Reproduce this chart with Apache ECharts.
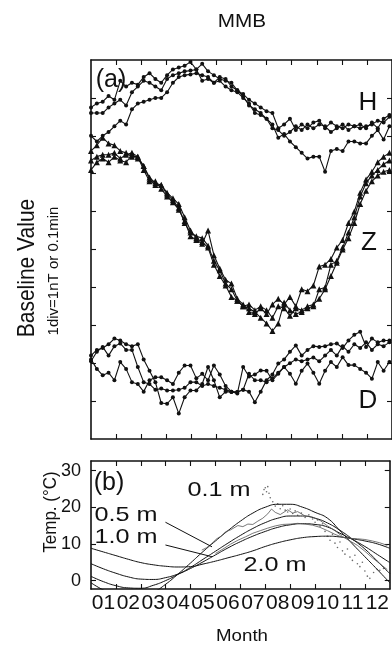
<!DOCTYPE html>
<html>
<head>
<meta charset="utf-8">
<script src="https://cdn.jsdelivr.net/npm/echarts@6/dist/echarts.min.js"></script>
<style>
  html, body { margin: 0; padding: 0; background: #fff; }
  #chart { width: 392px; height: 652px; }
</style>
</head>
<body>
<div id="chart"></div>
<script>
// month labels / tick positions
const monthLabels = ['01', '02', '03', '04', '05', '06', '07', '08', '09', '10', '11', '12']
const monthTicks = [1, 2, 3, 4, 5, 6, 7, 8, 9, 10, 11]
const monthLabelPos = [0.5, 1.5, 2.5, 3.5, 4.5, 5.5, 6.5, 7.5, 8.5, 9.5, 10.5, 11.5]
const divTicks = [1, 2, 3, 4, 5, 6, 7, 8, 9]
const tempTicks = [0, 10, 20, 30]
const weekStep = 0.2333 // months between weekly samples

// (a) baseline values, in divisions (weekly)
const hYear1 = [8.75, 8.85, 8.9, 9.05, 8.95, 9.45, 9.3, 9.4, 9.35, 9.55, 9.65, 9.5, 9.4, 9.6, 9.75, 9.8, 9.85, 9.95, 9.75, 9.9, 9.7, 9.6, 9.5, 9.45, 9.4, 9.2, 9.1, 8.95, 8.85, 8.75, 8.65, 8.6, 8.2, 8.3, 8.45, 8.15, 8.3, 8.2, 8.35, 8.4, 8.2, 8.35, 8.25, 8.2, 8.3, 8.25, 8.3, 8.2, 8.35, 8.2, 8.45, 8.55]
const hYear2 = [8.6, 8.6, 8.6, 8.75, 8.85, 8.95, 8.8, 9.15, 9.3, 9.45, 9.4, 9.3, 9.2, 9.5, 9.6, 9.65, 9.7, 9.72, 9.75, 9.45, 9.5, 9.4, 9.55, 9.5, 9.3, 9.2, 9.05, 8.8, 8.7, 8.6, 8.45, 8.3, 7.95, 8.05, 7.85, 7.7, 7.55, 7.4, 7.45, 7.45, 7.05, 7.6, 7.65, 7.6, 7.85, 7.85, 7.8, 7.8, 8.0, 8.15, 7.9, 8.25]
const hYear3 = [8.0, 7.85, 8.0, 8.1, 8.25, 8.4, 8.3, 8.7, 8.85, 8.9, 8.95, 9.0, 9.0, 9.15, 9.4, 9.55, 9.6, 9.62, 9.65, 9.6, 9.55, 9.4, 9.45, 9.3, 9.2, 9.15, 9.0, 8.85, 8.6, 8.55, 8.45, 8.2, 8.15, 8.0, 8.1, 8.25, 8.15, 8.3, 8.2, 8.3, 8.25, 8.1, 8.2, 8.3, 8.15, 8.25, 8.2, 8.25, 8.3, 8.4, 8.35, 8.5]
const zYear1 = [7.6, 7.75, 7.95, 7.8, 7.75, 7.6, 7.55, 7.45, 7.45, 7.2, 6.9, 6.75, 6.7, 6.5, 6.35, 6.2, 5.85, 5.5, 5.3, 5.2, 5.05, 4.6, 4.3, 4.05, 3.75, 3.65, 3.5, 3.45, 3.35, 3.2, 3.05, 2.85, 3.05, 3.6, 3.4, 3.3, 3.35, 3.45, 3.5, 3.95, 4.0, 4.6, 4.7, 5.05, 5.45, 5.85, 6.4, 6.75, 6.95, 7.1, 7.25, 7.35]
const zYear2 = [7.35, 7.45, 7.5, 7.5, 7.55, 7.4, 7.5, 7.55, 7.45, 7.1, 6.8, 6.8, 6.6, 6.4, 6.25, 6.05, 5.75, 5.35, 5.25, 5.15, 5.5, 4.85, 4.5, 4.2, 4.1, 3.7, 3.55, 3.35, 3.3, 3.45, 3.3, 3.55, 3.7, 3.55, 3.75, 3.5, 3.95, 3.9, 4.05, 4.55, 4.6, 4.75, 5.05, 5.25, 5.7, 6.0, 6.5, 6.85, 7.05, 7.3, 7.45, 7.55]
const zYear3 = [7.1, 7.3, 7.4, 7.3, 7.45, 7.35, 7.3, 7.5, 7.4, 7.2, 6.85, 6.7, 6.7, 6.45, 6.3, 6.1, 5.7, 5.45, 5.35, 5.3, 5.1, 4.7, 4.45, 4.1, 3.95, 3.65, 3.5, 3.55, 3.4, 3.5, 3.4, 3.2, 3.5, 3.45, 3.25, 3.45, 3.4, 3.5, 3.55, 3.7, 3.95, 4.3, 4.65, 5.0, 5.3, 5.7, 6.2, 6.55, 6.8, 6.95, 7.05, 7.1]
const dYear1 = [2.2, 2.35, 2.4, 2.5, 2.65, 2.6, 2.5, 2.45, 2.5, 2.1, 1.8, 1.5, 0.95, 0.93, 1.1, 0.67, 1.1, 1.28, 1.28, 1.45, 1.9, 1.55, 1.1, 1.25, 1.24, 1.24, 1.3, 1.25, 0.97, 1.25, 1.55, 1.7, 1.99, 2.1, 2.3, 2.47, 2.2, 2.35, 2.45, 2.43, 2.45, 2.5, 2.52, 2.4, 2.6, 2.75, 2.83, 2.43, 2.65, 2.55, 2.6, 2.6]
const dYear2 = [2.1, 1.85, 1.68, 1.75, 1.55, 2.03, 1.85, 1.5, 1.45, 1.25, 1.55, 1.63, 1.63, 1.55, 1.45, 1.75, 1.94, 1.94, 1.6, 1.72, 1.55, 1.94, 1.7, 1.4, 1.25, 1.2, 1.9, 1.65, 1.7, 1.81, 1.8, 1.55, 1.72, 1.9, 1.72, 1.46, 1.8, 1.99, 1.75, 1.46, 1.8, 2.03, 1.9, 2.16, 1.95, 1.95, 1.85, 1.75, 1.59, 2.03, 1.8, 2.03]
const dYear3 = [2.05, 2.3, 2.43, 2.2, 2.45, 2.52, 2.35, 2.35, 1.9, 1.5, 1.45, 1.3, 1.33, 1.28, 1.28, 1.3, 1.35, 1.5, 1.5, 1.4, 1.45, 1.4, 1.35, 1.3, 1.25, 1.24, 1.3, 1.72, 1.55, 1.55, 1.5, 1.6, 1.75, 1.9, 2.0, 2.1, 2.05, 2.1, 2.15, 2.05, 2.2, 2.35, 2.2, 2.45, 2.3, 2.5, 2.4, 2.55, 2.35, 2.5, 2.45, 2.55]

// (b) soil temperature, fitted curves every half month (0..12)
const halfMonths = [0, 0.5, 1, 1.5, 2, 2.5, 3, 3.5, 4, 4.5, 5, 5.5, 6, 6.5, 7, 7.5, 8, 8.5, 9, 9.5, 10, 10.5, 11, 11.5, 12]
const temp01Fit = [-0.6, -2.6, -4.0, -4.6, -4.4, -3.2, -1.0, 1.8, 4.8, 7.9, 10.8, 13.6, 16.2, 18.4, 20.0, 20.8, 20.8, 20.0, 18.6, 17.0, 13.6, 10.0, 6.5, 3.0, -0.6]
const temp05Fit = [1.15, -0.3, -1.4, -2.0, -2.1, -1.3, 0.0, 1.7, 3.6, 5.8, 8.0, 10.2, 12.3, 14.2, 15.8, 17.0, 17.6, 17.6, 17.0, 15.7, 13.7, 11.3, 8.6, 5.3, 1.9]
const temp10Fit = [4.6, 3.2, 2.0, 1.0, 0.4, 0.3, 0.8, 1.8, 3.3, 5.1, 7.0, 8.9, 10.6, 12.1, 13.4, 14.5, 15.2, 15.5, 15.3, 14.6, 12.9, 11.2, 9.3, 7.1, 4.9]
const temp20Fit = [8.8, 7.8, 6.8, 5.8, 4.9, 4.3, 3.9, 3.7, 3.8, 4.5, 5.3, 6.2, 7.1, 8.1, 9.3, 10.3, 11.1, 11.7, 12.0, 12.1, 11.9, 11.4, 10.8, 10.0, 8.8]
// measured (month, degC)
const temp05Obs = [[4.45, 8.3], [4.65, 9.0], [4.85, 10.1], [5.05, 11.4], [5.25, 12.2], [5.4, 13.3], [5.6, 13.8], [5.9, 15.0], [6.1, 14.7], [6.3, 15.4], [6.5, 15.3], [6.7, 16.2], [6.9, 17.0], [7.1, 18.2], [7.25, 19.5], [7.4, 18.6], [7.6, 18.0], [7.9, 19.3], [8.1, 18.4], [8.3, 18.8], [8.6, 17.6], [8.9, 17.3], [9.2, 16.4], [9.5, 14.9], [9.8, 13.6], [10.1, 12.0], [10.4, 10.8], [10.7, 9.6], [11.0, 8.0], [11.3, 6.2], [11.6, 4.6], [11.9, 3.0]]
const temp10Obs = [[5.0, 7.4], [5.3, 8.6], [5.6, 9.9], [5.9, 11.0], [6.2, 11.9], [6.5, 12.9], [6.8, 13.6], [7.1, 14.3], [7.4, 14.9], [7.7, 15.3], [8.0, 15.4], [8.3, 15.6], [8.6, 15.4], [8.9, 15.1], [9.2, 14.5], [9.5, 13.6], [9.8, 12.6], [10.1, 11.8], [10.4, 11.5], [10.7, 11.4], [11.0, 11.2], [11.3, 10.8], [11.6, 10.3], [11.9, 9.6]]
const temp01Obs = [[6.9, 23.5], [6.95, 24.8], [7.0, 25.3], [7.05, 24.2], [7.1, 25.6], [7.15, 23.8], [7.2, 22.6], [7.3, 21.5], [7.4, 20.3], [7.5, 20.9], [7.6, 19.6], [7.7, 20.4], [7.8, 19.2], [7.9, 18.7], [8.0, 19.5], [8.1, 18.3], [8.2, 19.0], [8.3, 17.8], [8.45, 18.4], [8.6, 17.2], [8.75, 17.9], [8.9, 16.8], [9.0, 15.9], [9.1, 16.5], [9.2, 14.8], [9.3, 15.5], [9.4, 13.4], [9.5, 12.1], [9.6, 11.0], [9.7, 12.6], [9.8, 10.2], [9.9, 9.0], [10.0, 10.5], [10.1, 8.1], [10.2, 7.2], [10.3, 8.6], [10.4, 6.4], [10.5, 5.5], [10.6, 6.9], [10.7, 4.6], [10.8, 3.8], [10.9, 5.0], [11.0, 2.6], [11.1, 1.2], [11.2, 0.6], [11.35, 2.2], [11.5, 3.0], [11.6, 2.8], [11.75, 3.3]]
// label leader lines (month, degC)
const lead05 = [[2.99, 15.9], [4.86, 9.2]]
const lead10 = [[2.99, 9.7], [4.86, 6.5]]

const ink = '#111'
const font = '"Liberation Sans", Arial, sans-serif'

function weekly(vals) {
  return vals.map((v, i) => [i * weekStep, v])
}
function byHalfMonth(vals) {
  return vals.map((v, i) => [halfMonths[i], v])
}

const axisLine = { show: true, onZero: false, lineStyle: { color: ink, width: 1.6 } }
function tick(values) {
  return { show: true, inside: true, length: 5, customValues: values, lineStyle: { color: ink, width: 1.1 } }
}
function monthAxis(grid, pos, withLabels) {
  return {
    gridIndex: grid, type: 'value', position: pos, min: 0, max: 12,
    axisLine: axisLine, axisTick: tick(monthTicks), splitLine: { show: false },
    axisLabel: withLabels ? {
      show: true, customValues: monthLabelPos, margin: 4,
      fontFamily: font, fontSize: 21, color: ink,
      formatter: v => monthLabels[Math.floor(v)]
    } : { show: false }
  }
}
function valAxis(grid, pos, min, max, ticks, withLabels) {
  return {
    gridIndex: grid, type: 'value', position: pos, min: min, max: max,
    axisLine: axisLine, axisTick: tick(ticks), splitLine: { show: false },
    axisLabel: withLabels ? {
      show: true, customValues: ticks, margin: 10,
      fontFamily: font, fontSize: 18, color: ink
    } : { show: false }
  }
}

function geoLine(name, vals, symbol, size) {
  return {
    name: name, type: 'line', xAxisIndex: 0, yAxisIndex: 0,
    data: weekly(vals), symbol: symbol, symbolSize: size,
    lineStyle: { color: ink, width: 1.1 }, itemStyle: { color: ink },
    silent: true
  }
}
function tempLine(name, data, color, width) {
  return {
    name: name, type: 'line', xAxisIndex: 2, yAxisIndex: 2, data: data,
    smooth: true, showSymbol: false, clip: true,
    lineStyle: { color: color, width: width }, silent: true
  }
}

function txt(text, x, y, size, opts) {
  return Object.assign({
    type: 'text', x: x, y: y, z: 100,
    style: { text: text, font: size + 'px ' + font, fill: ink, align: 'center', verticalAlign: 'middle' }
  }, opts || {})
}

const chart = echarts.init(document.getElementById('chart'))
chart.setOption({
  animation: false,
  backgroundColor: '#fff',
  grid: [
    { left: 91, top: 60, right: -1, bottom: 213 },
    { left: 91, top: 461, right: -1, bottom: 63 }
  ],
  xAxis: [
    monthAxis(0, 'bottom', false),
    monthAxis(0, 'top', false),
    monthAxis(1, 'bottom', true),
    monthAxis(1, 'top', false)
  ],
  yAxis: [
    valAxis(0, 'left', 0, 10, divTicks, false),
    valAxis(0, 'right', 0, 10, divTicks, false),
    valAxis(1, 'left', -2.3, 32.6, tempTicks, true),
    valAxis(1, 'right', -2.3, 32.6, tempTicks, false)
  ],
  series: [
    geoLine('H1', hYear1, 'circle', 4),
    geoLine('H2', hYear2, 'circle', 4),
    geoLine('H3', hYear3, 'circle', 4),
    geoLine('Z1', zYear1, 'triangle', 6),
    geoLine('Z2', zYear2, 'triangle', 6),
    geoLine('Z3', zYear3, 'triangle', 6),
    geoLine('D1', dYear1, 'circle', 4),
    geoLine('D2', dYear2, 'circle', 4),
    geoLine('D3', dYear3, 'circle', 4),
    tempLine('0.1 m', byHalfMonth(temp01Fit), ink, 1),
    tempLine('0.5 m', byHalfMonth(temp05Fit), ink, 1),
    tempLine('1.0 m', byHalfMonth(temp10Fit), ink, 1),
    tempLine('2.0 m', byHalfMonth(temp20Fit), ink, 1),
    Object.assign(tempLine('0.5 m obs', temp05Obs, '#555', 0.8), { smooth: false }),
    Object.assign(tempLine('1.0 m obs', temp10Obs, '#555', 0.8), { smooth: false }),
    {
      name: '0.1 m obs', type: 'scatter', xAxisIndex: 2, yAxisIndex: 2,
      data: temp01Obs, symbolSize: 1.6, itemStyle: { color: '#444' }, silent: true
    },
    {
      name: 'leaders', type: 'line', xAxisIndex: 2, yAxisIndex: 2, data: [], silent: true,
      markLine: {
        symbol: 'none', silent: true, label: { show: false },
        lineStyle: { color: ink, width: 1, type: 'solid' },
        data: [
          [{ coord: lead05[0] }, { coord: lead05[1] }],
          [{ coord: lead10[0] }, { coord: lead10[1] }]
        ]
      }
    }
  ],
  graphic: [
    txt('MMB', 242, 22, 18, { scaleX: 1.15 }),
    txt('(a)', 111, 80, 25),
    txt('H', 368, 103, 26),
    txt('Z', 369, 243, 26),
    txt('D', 368, 401, 26),
    txt('(b)', 109, 483, 25),
    txt('0.1 m', 219, 490, 21, { scaleX: 1.2 }),
    txt('0.5 m', 126, 515, 21, { scaleX: 1.2 }),
    txt('1.0 m', 126, 537, 21, { scaleX: 1.2 }),
    txt('2.0 m', 275, 565, 21, { scaleX: 1.2 }),
    txt('Baseline Value', 28, 268, 21, { rotation: Math.PI / 2, scaleY: 1.12 }),
    txt('1div=1nT or 0.1min', 54, 271, 15, { rotation: Math.PI / 2 }),
    txt('Temp. (\u00b0C)', 51, 512, 17, { rotation: Math.PI / 2, scaleY: 1.1 }),
    txt('Month', 242, 636, 17, { scaleX: 1.1 })
  ]
})
</script>
</body>
</html>
